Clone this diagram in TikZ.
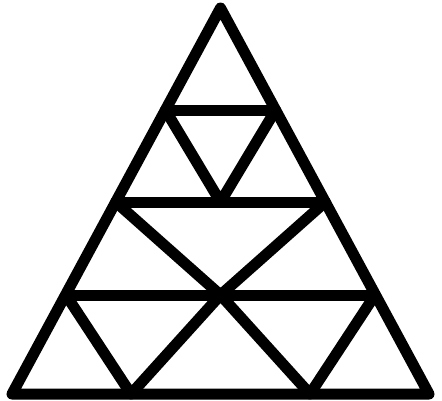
\documentclass[tikz,border=0pt]{standalone}
\begin{document}
\begin{tikzpicture}[x=1pt,y=-1pt,
  bar/.style={line width=11pt,line join=round,line cap=round,draw=black}]
\useasboundingbox[fill=white] (0,0) rectangle (442,400);
\coordinate (A) at (220.5,8);
\coordinate (L) at (12,394);
\coordinate (R) at (429,394);
\coordinate (l1) at (165.4,110);
\coordinate (r1) at (275.6,110);
\coordinate (l2) at (115.7,202);
\coordinate (r2) at (325.3,202);
\coordinate (l3) at (66,295);
\coordinate (r3) at (375,295);
\coordinate (m2) at (220.5,202);
\coordinate (m3) at (220.5,295);
\coordinate (b1) at (131,394);
\coordinate (b2) at (310,394);
\draw[bar] (A) -- (L) -- (R) -- cycle;
\draw[bar] (l1) -- (r1);
\draw[bar] (l2) -- (r2);
\draw[bar] (l3) -- (r3);
\draw[bar] (l1) -- (m2) -- (r1);
\draw[bar] (l2) -- (m3) -- (r2);
\draw[bar] (l3) -- (b1) -- (m3) -- (b2) -- (r3);
\end{tikzpicture}
\end{document}
